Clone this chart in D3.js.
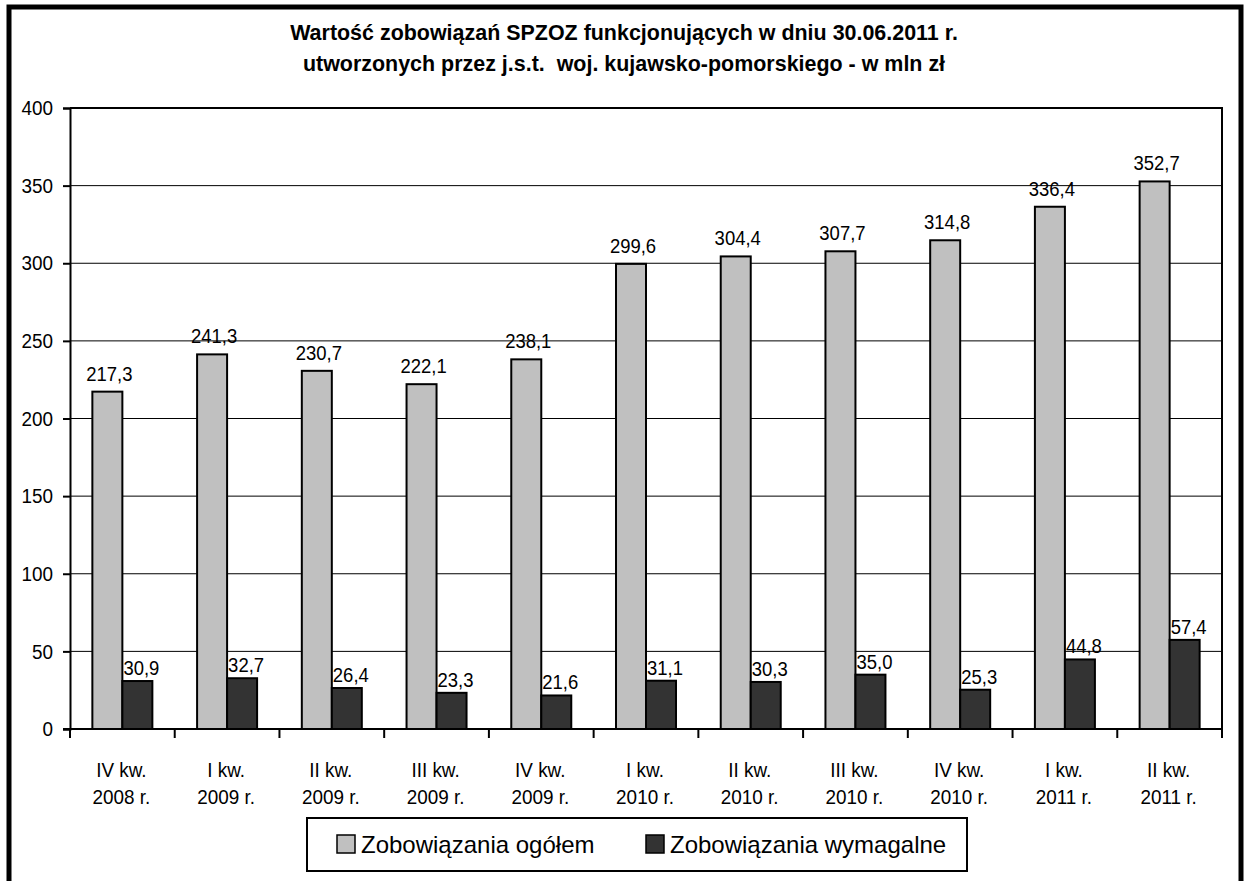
<!DOCTYPE html>
<html>
<head>
	<meta charset="utf-8">
	<title> zobowiazania </title>
	<script src="https://d3js.org/d3.v7.min.js"></script>
	<style>
		body { margin: 0; background: #fff; }
		text { font-family: "Liberation Sans", Arial, sans-serif; fill: black; }
	</style>
</head>
<body>
	<svg width="1244" height="881"></svg>
	<script type="text/javascript">
		let svg = d3.select("svg");
		let quarters = ["IV kw.", "I kw.", "II kw.", "III kw.", "IV kw.", "I kw.", "II kw.", "III kw.", "IV kw.", "I kw.", "II kw."];
		let years = ["2008 r.", "2009 r.", "2009 r.", "2009 r.", "2009 r.", "2010 r.", "2010 r.", "2010 r.", "2010 r.", "2011 r.", "2011 r."];
		let ogolem = [217.3, 241.3, 230.7, 222.1, 238.1, 299.6, 304.4, 307.7, 314.8, 336.4, 352.7];
		let wymagalne = [30.9, 32.7, 26.4, 23.3, 21.6, 31.1, 30.3, 35.0, 25.3, 44.8, 57.4];
		let seriesNames = ["Zobowiązania ogółem", "Zobowiązania wymagalne"];
		let yTicks = [0, 50, 100, 150, 200, 250, 300, 350, 400];
		let colorSet = ["#c0c0c0", "#333333"];

		const plotLeft = 70, plotRight = 1222, plotTop = 108, plotBottom = 729;
		let idx = d3.range(quarters.length);
		let x = d3.scaleBand().domain(idx).range([plotLeft, plotRight]);
		let xs = d3.scaleBand().domain([0, 1]).range([0, 60]);
		let y = d3.scaleLinear().domain([0, 400]).range([plotBottom, plotTop]);

		// the original font is a narrow one, so squeeze the text horizontally
		function squeeze(px, py, sx) {
			return "translate(" + px + "," + py + ") scale(" + sx + ",1)";
		}

		// outer frame (runs off the bottom edge like in the original)
		svg.append("rect")
			.attr("x", 9).attr("y", 7)
			.attr("width", 1232).attr("height", 900)
			.attr("fill", "none").attr("stroke", "black").attr("stroke-width", 5);

		// title
		let titleLines = ["Wartość zobowiązań SPZOZ funkcjonujących w dniu 30.06.2011 r.",
			"utworzonych przez j.s.t.  woj. kujawsko-pomorskiego - w mln zł"];
		svg.append("g").selectAll("text").data(titleLines).join("text")
			.attr("transform", (d, i) => squeeze(624, 40 + i * 31, 0.975))
			.attr("text-anchor", "middle")
			.attr("xml:space", "preserve")
			.style("font-weight", "bold")
			.style("font-size", "22px")
			.text(d => d);

		// gridlines
		svg.append("g").selectAll("line").data(yTicks.filter(d => d > 0 && d < 400)).join("line")
			.attr("x1", plotLeft).attr("x2", plotRight)
			.attr("y1", d => y(d)).attr("y2", d => y(d))
			.attr("stroke", "black").attr("stroke-width", 1);

		// plot border top / right
		svg.append("path")
			.attr("d", "M" + plotLeft + "," + y(400) + "H" + plotRight + "V" + plotBottom)
			.attr("fill", "none").attr("stroke", "black").attr("stroke-width", 2);

		// bars
		let groups = svg.append("g").selectAll("g").data(idx).join("g")
			.attr("transform", i => "translate(" + (x(i) + (x.bandwidth() - 60) / 2) + ",0)");
		[ogolem, wymagalne].forEach(function(series, s) {
			groups.append("rect")
				.attr("x", xs(s))
				.attr("y", i => y(series[i]))
				.attr("width", xs.bandwidth())
				.attr("height", i => y(0) - y(series[i]))
				.attr("fill", colorSet[s])
				.attr("stroke", "black")
				.attr("stroke-width", 2);
			groups.append("text")
				.attr("transform", i => squeeze(xs(s) + xs.bandwidth() / 2 + (s == 0 ? 2 : 4), y(series[i]) - (s == 0 ? 11 : 6), 0.88))
				.attr("text-anchor", "middle")
				.style("font-size", "21px")
				.text(i => d3.format(".1f")(series[i]).replace(".", ","));
		});

		// y axis
		let yAxis = d3.axisLeft(y).tickValues(yTicks).tickSize(7).tickPadding(10);
		let ya = svg.append("g").attr("transform", "translate(" + plotLeft + ",0)").call(yAxis);
		ya.select(".domain").attr("stroke-width", 2);
		ya.selectAll(".tick line").attr("stroke-width", 2);
		ya.selectAll(".tick text")
			.attr("x", -17 / 0.9)
			.attr("transform", "scale(0.9,1)")
			.attr("fill", "black")
			.style("font-size", "21px")
			.style("font-family", "'Liberation Sans', Arial, sans-serif");

		// x axis
		svg.append("line").attr("x1", plotLeft - 7).attr("x2", plotRight)
			.attr("y1", plotBottom).attr("y2", plotBottom)
			.attr("stroke", "black").attr("stroke-width", 2);
		let bounds = d3.range(quarters.length + 1).map(i => plotLeft + i * x.step());
		svg.append("g").selectAll("line").data(bounds).join("line")
			.attr("x1", d => d).attr("x2", d => d)
			.attr("y1", plotBottom).attr("y2", plotBottom + 9)
			.attr("stroke", "black").attr("stroke-width", 2);
		let xl = svg.append("g").selectAll("text").data(idx).join("text")
			.attr("transform", i => squeeze(x(i) + x.bandwidth() / 2 - 1, 0, 0.9))
			.attr("text-anchor", "middle")
			.style("font-size", "21px");
		xl.append("tspan").attr("x", 0).attr("y", 777).text(i => quarters[i]);
		xl.append("tspan").attr("x", 0).attr("y", 804).text(i => years[i]);

		// legend
		svg.append("rect").attr("x", 307).attr("y", 818).attr("width", 660).attr("height", 53)
			.attr("fill", "white").attr("stroke", "black").attr("stroke-width", 2);
		let legX = [337, 646];
		seriesNames.forEach(function(name, s) {
			svg.append("rect").attr("x", legX[s]).attr("y", 835).attr("width", 18).attr("height", 18)
				.attr("fill", colorSet[s]).attr("stroke", "black").attr("stroke-width", 1.5);
			svg.append("text").attr("x", legX[s] + 24).attr("y", 853)
				.style("font-size", "24px").text(name);
		});
	</script>
</body>
</html>
